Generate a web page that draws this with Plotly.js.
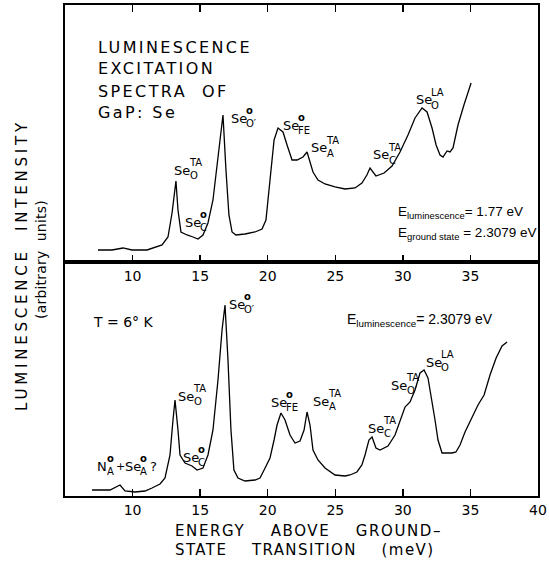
<!DOCTYPE html>
<html><head><meta charset="utf-8">
<script src="https://cdn.plot.ly/plotly-3.0.1.min.js"></script>
<style>html,body{margin:0;padding:0;background:#fff;}</style>
</head><body>
<div id="chart" style="width:549px;height:562px;"></div>
<script>
// ---- data (energy in meV, intensity in arbitrary units) ----
const energyTop = [7.44, 8.48, 9.29, 9.96, 11.07, 12.18, 12.62, 12.92, 13.21, 13.36, 13.58, 14.03, 14.47, 14.84, 15.21, 15.58, 15.95, 16.32, 16.69, 16.91, 17.13, 17.36, 17.65, 18.32, 19.06, 19.58, 19.87, 20.17, 20.47, 20.76, 21.13, 21.43, 21.8, 22.17, 22.61, 22.91, 23.13, 23.35, 23.72, 24.24, 24.98, 25.72, 26.46, 26.97, 27.34, 27.57, 28.01, 28.61, 29.2, 29.79, 30.38, 30.9, 31.42, 31.79, 32.16, 32.46, 32.75, 32.97, 33.27, 33.49, 33.71, 34.08, 34.52, 35.05];
const intensityTop = [12, 12, 14, 12, 12, 17, 25, 49, 81, 52, 30, 27, 25, 23, 27, 39, 62, 102, 147, 92, 47, 30, 27, 28, 30, 33, 42, 82, 122, 134, 130, 117, 102, 102, 105, 110, 100, 90, 82, 78, 75, 73, 74, 79, 87, 94, 86, 89, 96, 110, 127, 144, 154, 150, 134, 117, 107, 105, 111, 110, 114, 137, 157, 179];

const energyBottom = [7.0, 8.33, 9.07, 9.44, 10.18, 10.92, 11.44, 12.03, 12.4, 12.77, 12.99, 13.14, 13.36, 13.51, 13.88, 14.4, 14.77, 15.21, 15.58, 15.95, 16.32, 16.62, 16.84, 17.06, 17.28, 17.5, 17.8, 18.32, 19.06, 19.43, 19.73, 20.17, 20.47, 20.69, 20.98, 21.28, 21.65, 22.02, 22.39, 22.69, 22.91, 23.13, 23.35, 23.72, 24.24, 24.98, 25.72, 26.09, 26.6, 26.97, 27.2, 27.49, 27.72, 28.01, 28.31, 28.9, 29.42, 29.79, 30.16, 30.53, 30.9, 31.27, 31.57, 31.86, 32.09, 32.38, 32.6, 32.9, 33.27, 33.64, 33.93, 34.23, 34.6, 35.12, 35.56, 36.01, 36.45, 36.9, 37.34, 37.71];
const intensityBottom = [6, 6, 11, 5, 4, 5, 8, 12, 18, 41, 76, 96, 66, 41, 33, 30, 26, 28, 41, 66, 116, 166, 191, 136, 66, 26, 18, 15, 16, 18, 26, 38, 56, 71, 83, 76, 61, 53, 55, 66, 84, 71, 46, 36, 28, 21, 20, 21, 24, 31, 41, 56, 59, 48, 46, 50, 61, 76, 89, 94, 106, 123, 126, 118, 101, 76, 56, 43, 43, 43, 44, 51, 64, 78, 91, 101, 121, 138, 150, 154];

const tickValsBottom = [10, 15, 20, 25, 30, 35, 40];
const tickValsDivider = [10, 15, 20, 25, 30, 35];
const xRange = [5, 40];
const yRangeTop = [0, 257];
const yRangeBottom = [0, 234];

const titleLines = ["LUMINESCENCE", "EXCITATION", "SPECTRA\u00A0 OF", "GaP:\u00A0Se"];
const yTitle1 = "LUMINESCENCE\u00A0 INTENSITY";
const yTitle2 = "(arbitrary\u00A0 units)";
const xTitle1 = "ENERGY\u00A0\u00A0\u00A0 ABOVE\u00A0\u00A0\u00A0 GROUND\u2013";
const xTitle2 = "STATE\u00A0\u00A0\u00A0 TRANSITION\u00A0\u00A0\u00A0 (meV)";

// ---- layout helpers ----
const F = "DejaVu Sans";
const F2 = "Liberation Sans";
const L = 65, T = 5, W = 473, H = 491;
const px = x => (x - L) / W;
const py = y => (T + H - y) / H;
function txt(x, y, text, size, extra, fam) {
  return Object.assign({xref: 'paper', yref: 'paper', x: px(x), y: py(y), xanchor: 'left', yanchor: 'middle',
    text: text, showarrow: false, borderpad: 0, font: {family: fam || F, size: size, color: '#000'}}, extra || {});
}
function sp(s, n) { return '<span style="letter-spacing:' + n + 'px">' + s + '</span>'; }
function idx(x, y, base, sup, sub, baseW) {
  const bw = baseW || 15;
  return [txt(x, y, base, 13),
          txt(x + bw, y - 1, sup + '<br>' + sub, 10, {align: 'left'})];
}
const O = '<b>o</b>';

let ann = [];
// top panel
titleLines.forEach((s, i) => ann.push(txt(97, [47.5, 69, 91, 112.5][i], sp(s, 2.4), 16)));
ann = ann.concat(idx(173, 170, 'Se', 'TA', 'O'));
ann = ann.concat(idx(184, 222, 'Se', O, 'C'));
ann = ann.concat(idx(230, 118, 'Se', O, 'O\u2032'));
ann = ann.concat(idx(282, 125, 'Se', O, 'FE'));
ann = ann.concat(idx(310, 148, 'Se', 'TA', 'A'));
ann = ann.concat(idx(372, 155, 'Se', 'TA', 'C'));
ann = ann.concat(idx(415, 100, 'Se', 'LA', 'O'));
ann.push(txt(397, 212, 'E<sub>luminescence</sub>= 1.77 eV', 13.5, null, F2));
ann.push(txt(397, 233, 'E<sub>ground state</sub> = 2.3079 eV', 13.5, null, F2));
// bottom panel
ann.push(txt(92, 322, 'T = 6\u00B0 K', 14));
ann = ann.concat(idx(228, 304, 'Se', O, 'O\u2032'));
ann = ann.concat(idx(177, 396, 'Se', 'TA', 'O'));
ann = ann.concat(idx(182, 457, 'Se', O, 'C'));
ann = ann.concat(idx(96, 466, 'N', O, 'A', 10));
ann.push(txt(115, 466, '+', 11));
ann = ann.concat(idx(124, 466, 'Se', O, 'A'));
ann.push(txt(149, 466, '?', 13));
ann = ann.concat(idx(270, 402, 'Se', O, 'FE'));
ann = ann.concat(idx(312, 401, 'Se', 'TA', 'A'));
ann.push(txt(346, 320, 'E<sub>luminescence</sub>= 2.3079 eV', 14, null, F2));
ann = ann.concat(idx(367, 428, 'Se', 'TA', 'C'));
ann = ann.concat(idx(390, 385, 'Se', 'TA', 'O\u2032'));
ann = ann.concat(idx(425, 362, 'Se', 'LA', 'O'));
// axis titles
ann.push(txt(22, 265, sp(yTitle1, 3.8), 15, {xanchor: 'center', textangle: -90}));
ann.push(txt(41, 260, sp(yTitle2, 0.2), 14, {xanchor: 'center', textangle: -90}));
ann.push(txt(174, 531, sp(xTitle1, 1.6), 15));
ann.push(txt(174, 550, sp(xTitle2, 1.4), 15));

const lineStyle = {color: '#000', width: 1.3};
const traces = [
  {x: energyBottom, y: intensityBottom, xaxis: 'x', yaxis: 'y', mode: 'lines', line: lineStyle, hoverinfo: 'skip'},
  {x: energyTop, y: intensityTop, xaxis: 'x2', yaxis: 'y2', mode: 'lines', line: lineStyle, hoverinfo: 'skip'}
];

const split = 0.4766;
const axFont = {family: F, size: 14, color: '#000'};
const layout = {
  width: 549, height: 562,
  margin: {l: L, r: 549 - L - W, t: T, b: 562 - T - H, pad: 0},
  paper_bgcolor: '#fff', plot_bgcolor: '#fff',
  showlegend: false,
  font: {family: F, color: '#000'},
  xaxis: {domain: [0, 1], anchor: 'y', range: xRange, tickmode: 'array', tickvals: tickValsBottom,
          ticktext: tickValsBottom.map(String), ticks: 'inside', ticklen: 7, tickwidth: 1.3, tickcolor: '#000',
          showline: true, linecolor: '#000', linewidth: 1.8, mirror: true, showgrid: false, zeroline: false,
          tickfont: axFont},
  yaxis: {domain: [0, split], anchor: 'x', range: yRangeBottom, showline: true, linecolor: '#000', linewidth: 1.8,
          mirror: true, ticks: '', showticklabels: false, showgrid: false, zeroline: false},
  xaxis2: {domain: [0, 1], anchor: 'y2', range: xRange, tickmode: 'array', tickvals: tickValsDivider,
          ticktext: tickValsDivider.map(String), ticks: 'inside', ticklen: 7, tickwidth: 1.3, tickcolor: '#000',
          showline: true, linecolor: '#000', linewidth: 1.8, mirror: 'ticks', showgrid: false, zeroline: false,
          tickfont: axFont},
  yaxis2: {domain: [split, 1], anchor: 'x2', range: yRangeTop, showline: true, linecolor: '#000', linewidth: 1.8,
          mirror: true, ticks: '', showticklabels: false, showgrid: false, zeroline: false},
  annotations: ann
};
Plotly.newPlot('chart', traces, layout, {staticPlot: true});
</script>
</body></html>
